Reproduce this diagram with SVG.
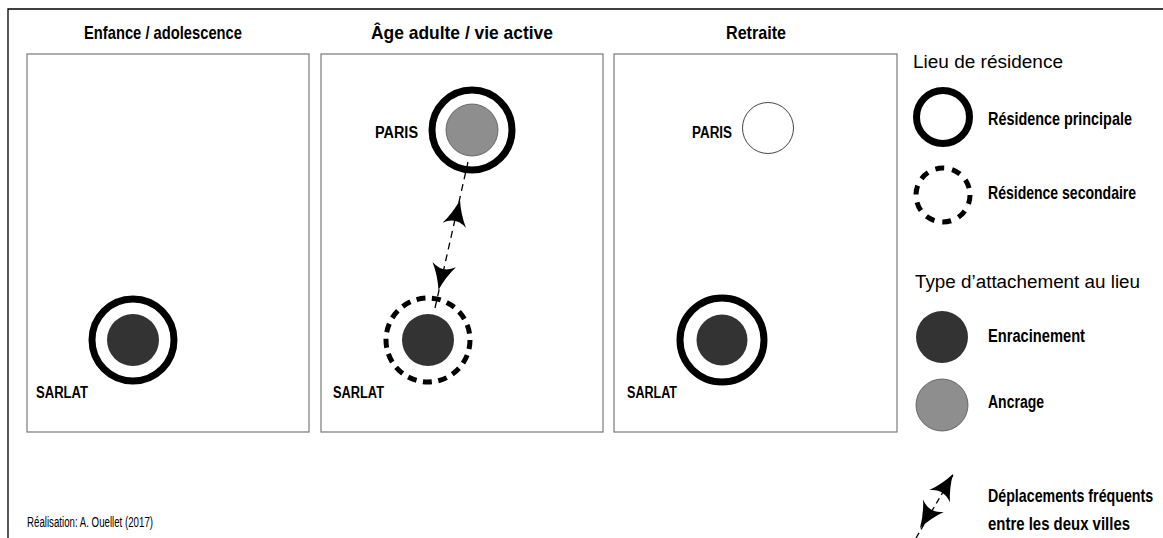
<svg xmlns="http://www.w3.org/2000/svg" width="1163" height="538" viewBox="0 0 1163 538">
<style>
.panel{fill:#fff;stroke:#7a7a7a;stroke-width:1.2}
.ring{fill:none;stroke:#000;stroke-width:7}
.dring{fill:none;stroke:#000;stroke-width:5;stroke-dasharray:9 6.5}
.root{fill:#333;stroke:none}
.anchor{fill:#8e8e8e;stroke:#555;stroke-width:0.8}
.title{font-family:"Liberation Sans",Arial,sans-serif;font-weight:bold;font-size:19px;fill:#000}
.lbl{font-family:"Liberation Sans",Arial,sans-serif;font-weight:bold;font-size:16px;fill:#000}
.leg{font-family:"Liberation Sans",Arial,sans-serif;font-weight:bold;font-size:18px;fill:#000}
.head{font-family:"Liberation Sans",Arial,sans-serif;font-size:18px;fill:#000}
.credit{font-family:"Liberation Sans",Arial,sans-serif;font-size:14px;fill:#000}
.move{fill:none;stroke:#000;stroke-width:1.3;stroke-dasharray:7 5}
</style>
<defs>
<path id="ah" d="M0,0 Q4,14 12,26 Q0,17 -12,26 Q-4,14 0,0 Z" fill="#000"/>
</defs>
<rect width="1163" height="538" fill="#fff"/>
<g id="frame">
<path d="M8,538 L8,9 L1163,9" fill="none" stroke="#000" stroke-width="1.3"/>
</g>

<g id="panel-enfance">
<rect class="panel" x="27" y="54" width="282" height="378"/>
<text class="title" x="84" y="39" textLength="158" lengthAdjust="spacingAndGlyphs">Enfance / adolescence</text>
<g id="sarlat-1">
<circle class="ring" cx="133" cy="340" r="41"/>
<circle class="root" cx="133" cy="340" r="26"/>
<text class="lbl" x="36" y="398" textLength="52" lengthAdjust="spacingAndGlyphs">SARLAT</text>
</g>
</g>

<g id="panel-adulte">
<rect class="panel" x="321" y="54" width="282" height="378"/>
<text class="title" x="371" y="39" textLength="182" lengthAdjust="spacingAndGlyphs">Âge adulte / vie active</text>
<g id="paris-2">
<circle class="ring" cx="472" cy="130" r="40"/>
<circle class="anchor" cx="472" cy="130" r="26"/>
<text class="lbl" x="375" y="138" textLength="43" lengthAdjust="spacingAndGlyphs">PARIS</text>
</g>
<g id="sarlat-2">
<circle class="dring" cx="428" cy="340" r="42"/>
<circle class="root" cx="428" cy="340" r="26"/>
<text class="lbl" x="333" y="398" textLength="51" lengthAdjust="spacingAndGlyphs">SARLAT</text>
</g>
</g>

<g id="panel-retraite">
<rect class="panel" x="614" y="54" width="283" height="378"/>
<text class="title" x="726" y="39" textLength="60" lengthAdjust="spacingAndGlyphs">Retraite</text>
<g id="paris-3">
<circle cx="768" cy="128" r="25.5" fill="#fff" stroke="#333" stroke-width="0.9"/>
<text class="lbl" x="692" y="138" textLength="40" lengthAdjust="spacingAndGlyphs">PARIS</text>
</g>
<g id="sarlat-3">
<circle class="ring" cx="722" cy="340" r="42"/>
<circle class="root" cx="722" cy="340" r="25.5"/>
<text class="lbl" x="627" y="398" textLength="50" lengthAdjust="spacingAndGlyphs">SARLAT</text>
</g>
</g>

<g id="connectors">
<path class="move" d="M435,308 L468,162"/>
<use href="#ah" transform="translate(460,200) rotate(12.7)"/>
<use href="#ah" transform="translate(438.5,290) rotate(192.7)"/>
</g>

<g id="legend">
<text class="head" x="913" y="68" textLength="150" lengthAdjust="spacingAndGlyphs">Lieu de résidence</text>
<g id="leg-principale">
<circle class="ring" cx="943" cy="117" r="26.5"/>
<text class="leg" transform="translate(988,125) scale(0.8,1)">Résidence principale</text>
</g>
<g id="leg-secondaire">
<circle cx="943" cy="195" r="27" fill="none" stroke="#000" stroke-width="5" stroke-dasharray="9 8"/>
<text class="leg" transform="translate(988,199) scale(0.78,1)">Résidence secondaire</text>
</g>
<text class="head" x="915" y="288" textLength="225" lengthAdjust="spacingAndGlyphs">Type d’attachement au lieu</text>
<g id="leg-enracinement">
<circle class="root" cx="942" cy="337" r="26"/>
<text class="leg" x="988" y="342" textLength="97" lengthAdjust="spacingAndGlyphs">Enracinement</text>
</g>
<g id="leg-ancrage">
<circle class="anchor" cx="942" cy="405" r="26"/>
<text class="leg" x="988" y="408" textLength="56" lengthAdjust="spacingAndGlyphs">Ancrage</text>
</g>
<g id="leg-deplacements">
<path d="M916,538 L953,475" fill="none" stroke="#000" stroke-width="1.3" stroke-dasharray="6 4"/>
<use href="#ah" transform="translate(953,474) rotate(31)"/>
<use href="#ah" transform="translate(920,528) rotate(211)"/>
<text class="leg" transform="translate(988,502) scale(0.79,1)">Déplacements fréquents</text>
<text class="leg" x="988" y="530" textLength="142" lengthAdjust="spacingAndGlyphs">entre les deux villes</text>
</g>
</g>

<text class="credit" x="27" y="527" textLength="126" lengthAdjust="spacingAndGlyphs">Réalisation: A. Ouellet (2017)</text>
</svg>
